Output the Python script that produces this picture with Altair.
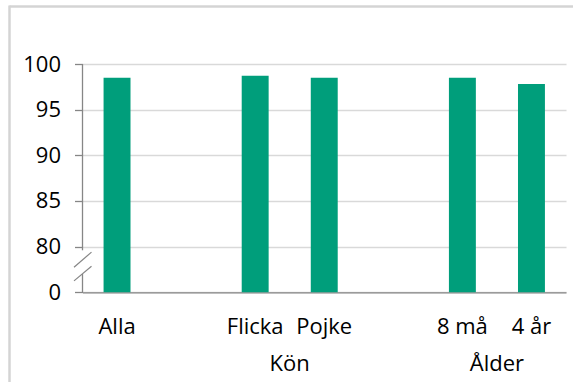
import altair as alt
import pandas as pd

# Share (%) per group; the y axis is broken below 80, its bottom tick stands for 0
categories = ["Alla", "Flicka", "Pojke", "8 må", "4 år"]
values = [98.5, 98.7, 98.5, 98.5, 97.8]

# Slots along x, including two empty spacer slots between the groups
slots = ["Alla", " ", "Flicka", "Pojke", "  ", "8 må", "4 år"]

# Group captions, each centred under a pair of bars (anchored on the left bar)
groups = ["Kön", "Ålder"]
group_anchor = ["Flicka", "8 må"]

y_ticks = [75, 80, 85, 90, 95, 100]
y_floor = 75          # scale position that carries the "0" label
break_gap = [77.0, 79.6]  # part of the y axis line left open for the break mark

FONT = "Open Sans"
GREEN = "#009E7B"
AXIS_GRAY = "#868686"
GRID_GRAY = "#d9d9d9"

bars_df = pd.DataFrame({"cat": categories, "value": values})
groups_df = pd.DataFrame({"group": groups, "anchor": group_anchor})
axis_df = pd.DataFrame({"top": [100, break_gap[0]], "bottom": [break_gap[1], y_floor]})
slash_df = pd.DataFrame({"lo": [76.25, 77.75], "hi": [77.85, 79.4]})
one_row = pd.DataFrame({"k": [0]})

x_scale = alt.Scale(domain=slots, paddingInner=0, paddingOuter=0)
y_scale = alt.Scale(domain=[y_floor, 100], nice=False, zero=False)

bars = alt.Chart(bars_df).mark_bar(
    color=GREEN, width=alt.RelativeBandSize(0.39)
).encode(
    x=alt.X("cat:N", scale=x_scale, sort=slots, title=None),
    y=alt.Y("value:Q", scale=y_scale, title=None,
            axis=alt.Axis(values=y_ticks,
                          labelExpr="datum.value == 75 ? '0' : datum.label")),
    y2=alt.Y2(datum=y_floor),
)

group_text = alt.Chart(groups_df).mark_text(
    font=FONT, fontSize=22, color="#000000", baseline="alphabetic", align="center"
).encode(
    x=alt.X("anchor:N", scale=x_scale, bandPosition=1, title=None),
    y=alt.value(307),
    text="group:N",
)

# y axis line, drawn in two pieces around the break
axis_line = alt.Chart(axis_df).mark_rule(color=AXIS_GRAY, strokeWidth=1.3).encode(
    x=alt.value(0),
    y=alt.Y("top:Q", scale=y_scale, title=None),
    y2="bottom:Q",
)

# the two slanted strokes of the break mark
slashes = alt.Chart(slash_df).mark_rule(color=AXIS_GRAY, strokeWidth=1.2).encode(
    x=alt.value(-8.5),
    x2=alt.value(9),
    y=alt.Y("lo:Q", scale=y_scale, title=None),
    y2="hi:Q",
)

# light frame along the top and left edge of the figure
frame_top = alt.Chart(one_row).mark_rule(color="#d4d4d4", strokeWidth=2.5).encode(
    x=alt.value(-73), x2=alt.value(491), y=alt.value(-57.5)
)
frame_left = alt.Chart(one_row).mark_rule(color="#d4d4d4", strokeWidth=2.5).encode(
    x=alt.value(-73), y=alt.value(-58.5), y2=alt.value(320)
)

chart = alt.layer(
    bars, group_text, axis_line, slashes, frame_top, frame_left
).properties(
    width=483.5,
    height=228.3,
    autosize=alt.AutoSizeParams(type="none"),
    padding={"left": 82.5, "top": 64, "right": 7, "bottom": 89.7},
    background="#ffffff",
).configure_view(
    stroke=None, clip=False
).configure_axisX(
    labelAngle=0, ticks=False, tickSize=0, grid=False,
    domainColor=AXIS_GRAY, domainWidth=1.3,
    labelFont=FONT, labelFontSize=22, labelColor="#000000",
    labelBaseline="alphabetic", labelPadding=41,
).configure_axisY(
    domain=False, tickSize=8, tickColor=AXIS_GRAY, tickWidth=1.3,
    grid=True, gridColor=GRID_GRAY, gridWidth=1.3,
    labelFont=FONT, labelFontSize=22, labelColor="#000000", labelPadding=14,
)

chart.save("out.html", embed_options={"renderer": "svg", "actions": False})
